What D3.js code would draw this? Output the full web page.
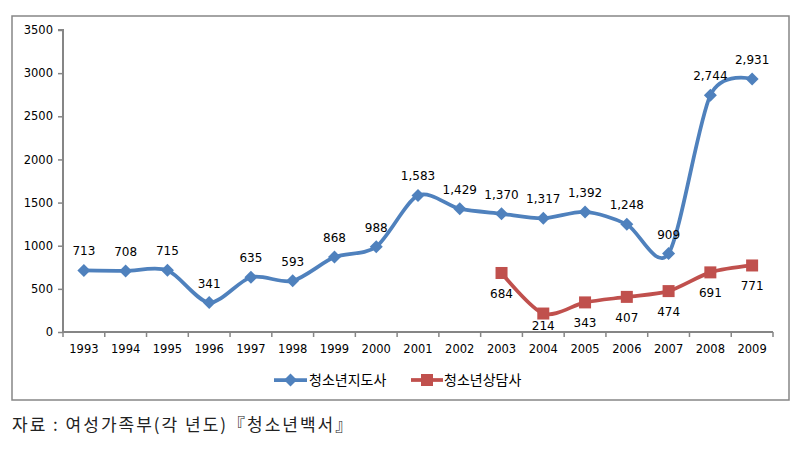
<!DOCTYPE html>
<html><head><meta charset="utf-8">
<script src="https://cdn.jsdelivr.net/npm/d3@7"></script>
<style>body{margin:0;background:#fff}svg{display:block}</style>
</head><body><svg id="c" width="804" height="453"></svg>
<script>
const years = ["1993","1994","1995","1996","1997","1998","1999","2000","2001","2002","2003","2004","2005","2006","2007","2008","2009"];
const guidance = [713,708,715,341,635,593,868,988,1583,1429,1370,1317,1392,1248,909,2744,2931];
const counselYears = ["2003","2004","2005","2006","2007","2008","2009"];
const counsel = [684,214,343,407,474,691,771];
const yTicks = [0,500,1000,1500,2000,2500,3000,3500];
const seriesNames = ["청소년지도사","청소년상담사"];
const caption = "자료 : 여성가족부(각 년도)『청소년백서』";

const svg = d3.select("#c");
const L = 63, R = 773, T = 30, B = 332;
const x = d3.scaleBand().domain(years).range([L, R]);
const y = d3.scaleLinear().domain([0, 3500]).range([B, T]);
const blue = "#4f81bd", red = "#c0504d", axisC = "#868686";
const numFont = "DejaVu Sans, Verdana, sans-serif";

svg.append("rect").attr("x",12).attr("y",16).attr("width",777).attr("height",384)
  .attr("fill","#fff").attr("stroke",axisC).attr("stroke-width",1.5);

// y axis
const ya = svg.append("g").attr("transform",`translate(${L},0)`)
  .call(d3.axisLeft(y).tickValues(yTicks).tickSize(5).tickPadding(5).tickFormat(d3.format("d")));
ya.selectAll("text").attr("font-family",numFont).attr("font-size",11.5).attr("fill","#000");
ya.selectAll("line").attr("stroke",axisC).attr("stroke-width",1.5);
ya.select(".domain").attr("stroke",axisC).attr("stroke-width",2).attr("d",`M-5,${T}H0V${B}`);

// x axis
const xa = svg.append("g").attr("transform",`translate(0,${B})`)
  .call(d3.axisBottom(x).tickSize(0).tickPadding(13));
xa.selectAll("text").attr("font-family",numFont).attr("font-size",11.5).attr("fill","#000");
xa.select(".domain").attr("stroke",axisC).attr("stroke-width",2).attr("d",`M${L},0H${R}`);
const bounds = years.map(v => x(v)).concat([R]);
xa.selectAll("line.bt").data(bounds).enter().append("line").attr("class","bt")
  .attr("x1",d=>d).attr("x2",d=>d).attr("y1",0).attr("y2",5).attr("stroke",axisC).attr("stroke-width",1.5);

const cx = v => x(v) + x.bandwidth()/2;
const line = d3.line().curve(d3.curveCardinal.tension(0.15)).x(d=>cx(d[0])).y(d=>y(d[1]));

const gData = years.map((v,i)=>[v,guidance[i]]);
const cData = counselYears.map((v,i)=>[v,counsel[i]]);

svg.append("path").datum(gData).attr("d",line).attr("fill","none").attr("stroke",blue).attr("stroke-width",3.75);
svg.append("path").datum(cData).attr("d",line).attr("fill","none").attr("stroke",red).attr("stroke-width",3.75);

const dPath = "M0,-6.5L6.5,0L0,6.5L-6.5,0Z";
svg.selectAll("path.gm").data(gData).enter().append("path").attr("class","gm")
  .attr("d",dPath).attr("transform",d=>`translate(${cx(d[0])},${y(d[1])})`).attr("fill",blue);
svg.selectAll("rect.cm").data(cData).enter().append("rect").attr("class","cm")
  .attr("x",d=>cx(d[0])-6).attr("y",d=>y(d[1])-6).attr("width",12).attr("height",12)
  .attr("fill",red);

const fmt = d3.format(",");
svg.selectAll("text.gl").data(gData).enter().append("text").attr("class","gl")
  .attr("x",d=>cx(d[0])).attr("y",d=>y(d[1])-15).attr("text-anchor","middle")
  .attr("font-family",numFont).attr("font-size",12).attr("fill","#000").text(d=>fmt(d[1]));
svg.selectAll("text.cl").data(cData).enter().append("text").attr("class","cl")
  .attr("x",d=>cx(d[0])).attr("y",d=>Math.min(y(d[1])+25, B-2)).attr("text-anchor","middle")
  .attr("font-family",numFont).attr("font-size",12).attr("fill","#000").text(d=>fmt(d[1]));

// legend
const lg = svg.append("g").attr("font-family","Noto Sans CJK KR, sans-serif").attr("font-size",14);
lg.append("line").attr("x1",274).attr("x2",307).attr("y1",380).attr("y2",380).attr("stroke",blue).attr("stroke-width",3.75);
lg.append("path").attr("d",dPath).attr("transform","translate(290.5,380)").attr("fill",blue);
lg.append("text").attr("x",309).attr("y",385).text(seriesNames[0]);
lg.append("line").attr("x1",411).attr("x2",443).attr("y1",380).attr("y2",380).attr("stroke",red).attr("stroke-width",3.75);
lg.append("rect").attr("x",421).attr("y",374).attr("width",12).attr("height",12).attr("fill",red);
lg.append("text").attr("x",444).attr("y",385).text(seriesNames[1]);

svg.append("text").attr("x",12).attr("y",431).attr("font-family","Noto Sans CJK KR, sans-serif")
  .attr("font-size",17).attr("letter-spacing",2).attr("fill","#222").text(caption);
</script></body></html>
